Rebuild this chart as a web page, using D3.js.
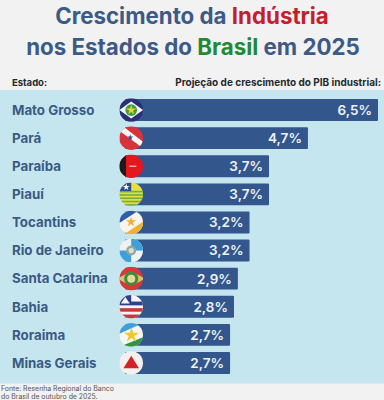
<!DOCTYPE html>
<html>
<head>
<meta charset="utf-8">
<script src="https://cdn.jsdelivr.net/npm/d3@7"></script>
<style>
  html, body { margin: 0; padding: 0; background: #f2f2f2; }
  svg { display: block; }
  text { font-family: Inter, "Open Sans", sans-serif; }
</style>
</head>
<body>
<div id="wrapper"></div>
<script>
// 1. Data
const states = ["Mato Grosso", "Pará", "Paraíba", "Piauí", "Tocantins",
    "Rio de Janeiro", "Santa Catarina", "Bahia", "Roraima", "Minas Gerais"];
const growth = [6.5, 4.7, 3.7, 3.7, 3.2, 3.2, 2.9, 2.8, 2.7, 2.7];
const flagIds = ["mt", "pa", "pb", "pi", "to", "rj", "sc", "ba", "rr", "mg"];
const titleLines = [
    [["Crescimento da ", "#3d5a85"], ["Indústria", "#c4202c"]],
    [["nos Estados do ", "#3d5a85"], ["Brasil", "#1f8a34"], [" em 2025", "#3d5a85"]]
];
const sourceLines = ["Fonte: Resenha Regional do Banco", "do Brasil de outubro de 2025."];

// 2. Dimensions
const dimensions = {
    width: 384,
    height: 400,
    panelTop: 90,
    panelBottom: 383.5,
    barStart: 125,
    barEnd: 378
};

const wrapper = d3.select('#wrapper')
    .append('svg')
    .attr('width', dimensions.width)
    .attr('height', dimensions.height);

wrapper.append('rect')
    .attr('width', dimensions.width)
    .attr('height', dimensions.height)
    .attr('fill', '#f2f2f2');

// 3. Title
const titleBaselines = [24, 54.5];
titleLines.forEach((line, i) => {
    wrapper.append('text')
        .attr('x', dimensions.width / 2 + (i === 0 ? 0 : 1))
        .attr('y', titleBaselines[i])
        .attr('text-anchor', 'middle')
        .attr('font-size', 22.3)
        .attr('font-weight', 700)
        .selectAll('tspan')
        .data(line)
        .join('tspan')
        .attr('fill', d => d[1])
        .attr('xml:space', 'preserve')
        .text(d => d[0]);
});

// 4. Column headers
wrapper.append('text')
    .attr('x', 12).attr('y', 85.5)
    .attr('font-size', 9.5).attr('font-weight', 700).attr('fill', '#1f2a30')
    .text('Estado:');
wrapper.append('text')
    .attr('x', 381).attr('y', 85.5)
    .attr('text-anchor', 'end')
    .attr('font-size', 10).attr('font-weight', 700).attr('fill', '#1f2a30')
    .text('Projeção de crescimento do PIB industrial:');

// 5. Panel
wrapper.append('rect')
    .attr('x', 0)
    .attr('y', dimensions.panelTop)
    .attr('width', dimensions.width)
    .attr('height', dimensions.panelBottom - dimensions.panelTop)
    .attr('fill', '#c6e6ef');

// 6. Scales
const xScale = d3.scaleLinear()
    .domain([0, 6.5])
    .range([dimensions.barStart, dimensions.barEnd]);
const yScale = d3.scaleBand()
    .domain(states)
    .range([96, 377])
    .paddingInner(0.22)
    .paddingOuter(0.11);

const rows = wrapper.append('g')
    .selectAll('g')
    .data(states)
    .join('g')
    .attr('transform', d => `translate(0,${yScale(d)})`);

rows.append('rect')
    .attr('x', xScale(0))
    .attr('width', (d, i) => xScale(growth[i]) - xScale(0))
    .attr('height', yScale.bandwidth())
    .attr('rx', 1)
    .attr('fill', '#33578c');

rows.append('text')
    .attr('x', 12)
    .attr('y', yScale.bandwidth() / 2)
    .attr('dy', '0.36em')
    .attr('font-size', 13.3)
    .attr('font-weight', 700)
    .attr('fill', '#3a5a85')
    .text(d => d);

rows.append('text')
    .attr('x', (d, i) => xScale(growth[i]) - 6)
    .attr('y', yScale.bandwidth() / 2)
    .attr('dy', '0.36em')
    .attr('text-anchor', 'end')
    .attr('font-size', 13.5)
    .attr('font-weight', 600)
    .attr('fill', '#eef3f7')
    .text((d, i) => `${String(growth[i]).replace('.', ',')}%`);

// 7. Flags, drawn in a unit circle and scaled
const defs = wrapper.append('defs');
defs.append('clipPath').attr('id', 'unit')
    .append('circle').attr('r', 1);

const rect = (g, x, y, w, h, fill) => g.append('rect')
    .attr('x', x).attr('y', y).attr('width', w).attr('height', h).attr('fill', fill);
const poly = (g, pts, fill) => g.append('polygon')
    .attr('points', pts.join(' ')).attr('fill', fill);
const disc = (g, x, y, r, fill) => g.append('circle')
    .attr('cx', x).attr('cy', y).attr('r', r).attr('fill', fill);
// r is the star's outer radius
const addStar = (g, x, y, r, fill) => g.append('path')
    .attr('d', d3.symbol(d3.symbolStar).size(r * r / 0.89).digits(5)())
    .attr('transform', `translate(${x},${y})`)
    .attr('fill', fill);

const flagDrawers = {
    mt(g) {
        rect(g, -1, -1, 2, 2, '#2c2f78');
        poly(g, ['-1,0', '0,-0.72', '1,0', '0,0.72'], '#f4f6f4');
        disc(g, 0, 0, 0.5, '#3c9e44');
        addStar(g, 0, 0, 0.44, '#ecd02c');
    },
    pa(g) {
        rect(g, -1, -1, 2, 2, '#d8333c');
        poly(g, ['-1,-0.62', '-0.7,-1', '1,0.3', '1,0.85'], '#f7f7f7');
        addStar(g, -0.08, -0.06, 0.28, '#2b4f92');
    },
    pb(g) {
        rect(g, -1, -1, 2, 2, '#e6161f');
        rect(g, -1, -1, 0.56, 2, '#1b1b1b');
        rect(g, -0.16, -0.05, 0.6, 0.1, '#f6c9c9');
    },
    pi(g) {
        rect(g, -1, -1, 2, 2, '#e8e03a');
        d3.range(5).forEach(i => rect(g, -1, -0.3 + i * 0.28, 2, 0.14, '#6fb04a'));
        rect(g, -1, -1, 1, 0.72, '#2b4a8f');
        addStar(g, -0.42, -0.62, 0.3, '#ffffff');
    },
    to(g) {
        rect(g, -1, -1, 2, 2, '#f7f5ee');
        poly(g, ['-1,-1', '0.6,-1', '-1,0.05'], '#2f5ea8');
        poly(g, ['1,1', '-0.6,1', '1,-0.05'], '#eeb130');
        addStar(g, -0.02, -0.04, 0.46, '#eeb130');
    },
    rj(g) {
        rect(g, -1, -1, 2, 2, '#eef2f3');
        rect(g, 0, -1, 1, 1, '#3f9fdc');
        rect(g, -1, 0, 1, 1, '#3f9fdc');
        disc(g, 0, 0, 0.42, '#93a89c');
        disc(g, 0, 0, 0.22, '#d8dfd4');
    },
    sc(g) {
        rect(g, -1, -1, 2, 2, '#d8383a');
        poly(g, ['-1,-0.1', '-0.4,-0.42', '0.4,-0.42', '1,-0.1', '1,0.1', '0.4,0.42', '-0.4,0.42', '-1,0.1'], '#c9cb6e');
        disc(g, 0, 0, 0.6, '#3f8a3c');
        disc(g, 0, 0, 0.34, '#e8d998');
    },
    ba(g) {
        rect(g, -1, -1, 2, 2, '#f5f5f5');
        rect(g, -1, -0.44, 2, 0.32, '#2f3f8f');
        rect(g, -1, 0.12, 2, 0.3, '#c9373e');
        rect(g, -1, 0.66, 2, 0.34, '#c9373e');
        rect(g, -1, -1, 1, 0.84, '#2f3f8f');
        poly(g, ['-0.5,-0.82', '-0.12,-0.28', '-0.88,-0.28'], '#f5f5f5');
    },
    rr(g) {
        rect(g, -1, -1, 2, 2, '#f6f6f2');
        poly(g, ['-1,-1', '1,-1', '-1,-0.1'], '#3f9fdc');
        poly(g, ['-1,1', '1,1', '1,0.2'], '#2f9640');
        addStar(g, 0.02, 0.02, 0.66, '#f0c72c');
    },
    mg(g) {
        rect(g, -1, -1, 2, 2, '#f4f0ee');
        poly(g, ['0,-0.62', '0.66,0.44', '-0.66,0.44'], '#d3222a');
    }
};

rows.append('g')
    .attr('transform', `translate(131.2,${yScale.bandwidth() / 2}) scale(11.8)`)
    .attr('clip-path', 'url(#unit)')
    .each(function (d, i) {
        flagDrawers[flagIds[i]](d3.select(this));
    });

// 8. Source
wrapper.append('g')
    .selectAll('text')
    .data(sourceLines)
    .join('text')
    .attr('x', 1)
    .attr('y', (d, i) => 390.8 + i * 8.4)
    .attr('font-size', 6.9)
    .attr('fill', '#555555')
    .text(d => d);
</script>
</body>
</html>
